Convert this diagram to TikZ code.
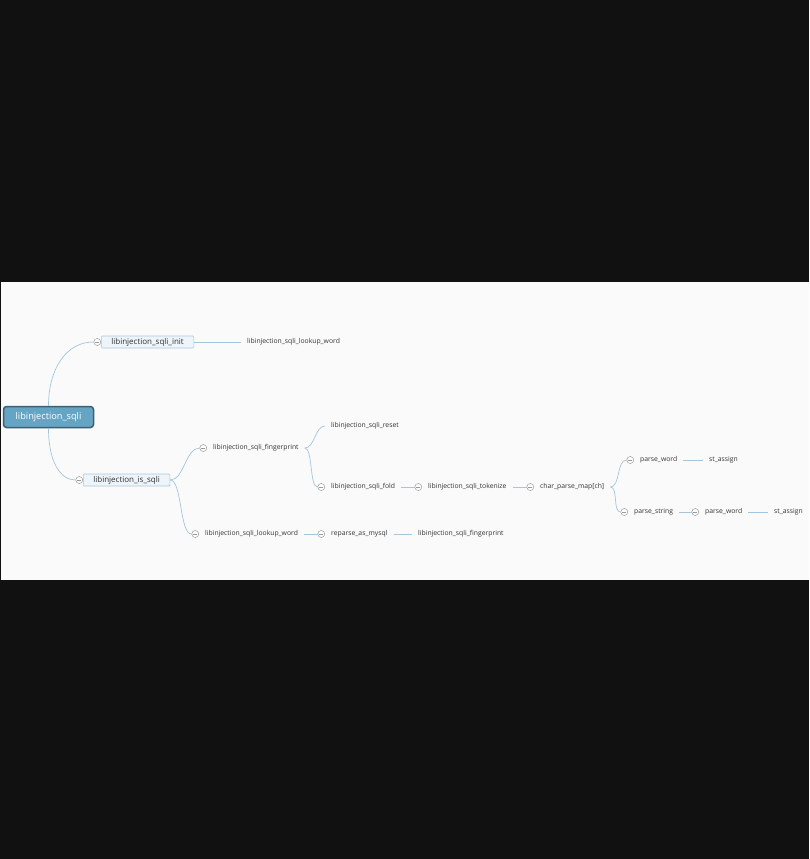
\documentclass[tikz,border=0pt]{standalone}
\usepackage{fontspec}
\setmainfont{Open Sans}
\usetikzlibrary{positioning}
\definecolor{pagedark}{HTML}{111111}
\definecolor{sheet}{HTML}{FAFAFA}
\definecolor{rootblue}{HTML}{66A4C4}
\definecolor{rootedge}{HTML}{3C5F73}
\definecolor{subfill}{HTML}{EDF4FA}
\definecolor{subedge}{HTML}{A9C7DB}
\definecolor{linkblue}{HTML}{A3C6DC}
\definecolor{dotgray}{HTML}{999999}
\definecolor{labeltext}{HTML}{333333}

\begin{document}
\begin{tikzpicture}[x=1pt, y=-1pt,
  rootbox/.style={draw=rootedge, fill=rootblue, line width=1.5pt, rounded corners=3pt,
    text=white, font=\fontsize{9.2}{11}\selectfont, minimum width=90pt, minimum height=21pt, inner sep=0pt},
  subbox/.style={draw=subedge, fill=subfill, line width=0.6pt, rounded corners=1pt, anchor=west,
    text=labeltext, font=\fontsize{8}{10}\selectfont, inner xsep=10pt, inner ysep=0pt, minimum height=12pt},
  lbl/.style={anchor=west, text=labeltext, font=\fontsize{6.8}{8}\selectfont, inner xsep=6pt, inner ysep=1pt},
  dot/.style={circle, draw=dotgray, fill=white, line width=0.5pt, minimum size=7pt, inner sep=0pt,
    path picture={\draw[dotgray, line width=0.5pt] ([xshift=-2pt]path picture bounding box.center)
      -- ([xshift=2pt]path picture bounding box.center);}},
  link/.style={draw=linkblue, line width=0.7pt}]
  \useasboundingbox (0,0) rectangle (809,859);
  \fill[pagedark] (0,0) rectangle (809,859);
  \fill[sheet] (1,282) rectangle (809,580);

  \node[rootbox] (root) at (48.5,417) {libinjection\_sqli};
  \node[subbox] (init) at (101,342) {libinjection\_sqli\_init};
  \node[dot, left=0pt of init] (initdot) {};
  \node[subbox] (issqli) at (83,480) {libinjection\_is\_sqli};
  \node[dot, left=0pt of issqli] (issqlidot) {};

  \node[lbl] (lookupa) at (241,342) {libinjection\_sqli\_lookup\_word};
  \node[lbl] (fingerprinta) at (207,448) {libinjection\_sqli\_fingerprint};
  \node[dot, left=0pt of fingerprinta] (fingerprintadot) {};
  \node[lbl] (lookupb) at (199,534) {libinjection\_sqli\_lookup\_word};
  \node[dot, left=0pt of lookupb] (lookupbdot) {};
  \node[lbl] (reset) at (325,426) {libinjection\_sqli\_reset};
  \node[lbl] (fold) at (325,487) {libinjection\_sqli\_fold};
  \node[dot, left=0pt of fold] (folddot) {};
  \node[lbl] (tokenize) at (422,487) {libinjection\_sqli\_tokenize};
  \node[dot, left=0pt of tokenize] (tokenizedot) {};
  \node[lbl] (charmap) at (534,487) {char\_parse\_map[ch]};
  \node[dot, left=0pt of charmap] (charmapdot) {};
  \node[lbl] (parsewa) at (634,460) {parse\_word};
  \node[dot, left=0pt of parsewa] (parsewadot) {};
  \node[lbl] (assigna) at (703,460) {st\_assign};
  \node[lbl] (parsestr) at (628,512) {parse\_string};
  \node[dot, left=0pt of parsestr] (parsestrdot) {};
  \node[lbl] (parsewb) at (699,512) {parse\_word};
  \node[dot, left=0pt of parsewb] (parsewbdot) {};
  \node[lbl] (assignb) at (768,512) {st\_assign};
  \node[lbl] (reparse) at (325,534) {reparse\_as\_mysql};
  \node[dot, left=0pt of reparse] (reparsedot) {};
  \node[lbl] (fingerprintb) at (412,534) {libinjection\_sqli\_fingerprint};

  \draw[link] (root.north) .. controls +(0,-36) and +(-28,0) .. (initdot.west);
  \draw[link] (root.south) .. controls +(0,34) and +(-15,0) .. (issqlidot.west);
  \draw[link] (init.east) -- (lookupa.west);
  \draw[link] (issqli.east) .. controls +(14,0) and +(-14,0) .. (fingerprintadot.west);
  \draw[link] (issqli.east) .. controls +(12,0) and +(-12,0) .. (lookupbdot.west);
  \draw[link] (fingerprinta.east) .. controls +(10,0) and +(-10,0) .. (reset.west);
  \draw[link] (fingerprinta.east) .. controls +(8,0) and +(-8,0) .. (folddot.west);
  \draw[link] (fold.east) -- (tokenizedot.west);
  \draw[link] (tokenize.east) -- (charmapdot.west);
  \draw[link] (charmap.east) .. controls +(10,0) and +(-10,0) .. (parsewadot.west);
  \draw[link] (charmap.east) .. controls +(8,0) and +(-8,0) .. (parsestrdot.west);
  \draw[link] (parsewa.east) -- (assigna.west);
  \draw[link] (parsestr.east) -- (parsewbdot.west);
  \draw[link] (parsewb.east) -- (assignb.west);
  \draw[link] (lookupb.east) -- (reparsedot.west);
  \draw[link] (reparse.east) -- (fingerprintb.west);
\end{tikzpicture}
\end{document}
